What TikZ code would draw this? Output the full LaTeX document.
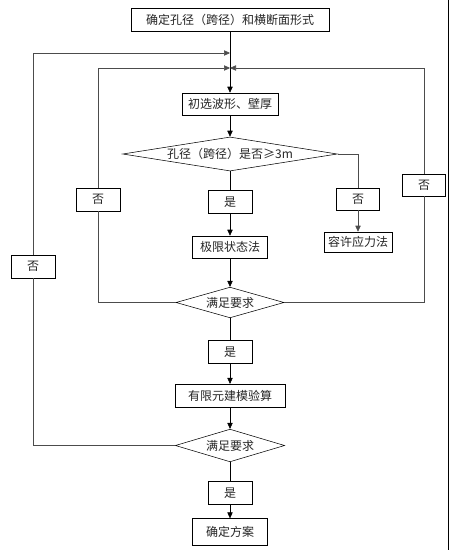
\documentclass[tikz,border=0pt]{standalone}
\usepackage{fontspec}
\newfontfamily\cjk{Noto Sans CJK SC}
\usetikzlibrary{arrows.meta,shapes.geometric}

\begin{document}
\begin{tikzpicture}[x=0.75pt, y=-0.75pt,
    box/.style={draw, fill=white, inner sep=0pt, text=black!85,
      font=\cjk\fontsize{9}{11}\selectfont},
    dia/.style={box, diamond},
    arr/.style={-{Triangle[length=4.5pt, width=4pt]}},
    loopline/.style={draw=black!70}]
  \useasboundingbox (0,0) rectangle (452,550);

  % Main column
  \node[box, minimum width=148.5pt, minimum height=17.25pt] (top) at (230,19.5) {确定孔径（跨径）和横断面形式};
  \coordinate (jo) at (230,53);
  \coordinate (ji) at (230,68);
  \node[box, minimum width=72pt, minimum height=16.5pt] (select) at (230,104) {初选波形、壁厚};
  \node[dia, aspect=6, minimum width=161pt, minimum height=25.5pt] (d1) at (230,154) {孔径（跨径）是否≥3m};
  \node[box, minimum width=33pt, minimum height=17pt] (yes1) at (230,202) {是};
  \node[box, minimum width=56pt, minimum height=16.5pt] (limit) at (230,247) {极限状态法};
  \node[dia, aspect=4, minimum width=81pt, minimum height=23pt] (d2) at (230,302.5) {满足要求};
  \node[box, minimum width=33pt, minimum height=17pt] (yes2) at (230,352) {是};
  \node[box, minimum width=82.5pt, minimum height=17pt] (fem) at (230,395.5) {有限元建模验算};
  \node[dia, aspect=4, minimum width=82pt, minimum height=24.5pt] (d3) at (230,445.5) {满足要求};
  \node[box, minimum width=33pt, minimum height=17pt] (yes3) at (230,493) {是};
  \node[box, minimum width=56pt, minimum height=20pt] (final) at (230,532) {确定方案};

  % Side branches
  \node[box, minimum width=32pt, minimum height=16.5pt] (noD1) at (358,199) {否};
  \node[box, minimum width=51pt, minimum height=15pt] (allow) at (358,242) {容许应力法};
  \node[box, minimum width=33pt, minimum height=17pt] (noL) at (98,199.5) {否};
  \node[box, minimum width=32pt, minimum height=16.5pt] (noR) at (424,185) {否};
  \node[box, minimum width=33pt, minimum height=17pt] (noOut) at (33,266.5) {否};

  % Connectors down the middle
  \draw[arr] (top) -- (select);
  \draw[arr] (select) -- (d1);
  \draw (d1) -- (yes1);
  \draw[arr] (yes1) -- (limit);
  \draw[arr] (limit) -- (d2);
  \draw (d2) -- (yes2);
  \draw[arr] (yes2) -- (fem);
  \draw[arr] (fem) -- (d3);
  \draw (d3) -- (yes3);
  \draw[arr] (yes3) -- (final);

  % Branch to allowable stress
  \draw[loopline] (d1.east) -| (noD1.north);
  \draw[loopline, arr] (noD1) -- (allow);

  % Loops back
  \draw[loopline] (d2.west) -| (noL.south);
  \draw[loopline, arr] (noL.north) |- (ji);
  \draw[loopline] (d2.east) -| (noR.south);
  \draw[loopline, arr] (noR.north) |- (ji);
  \draw[loopline] (d3.west) -| (noOut.south);
  \draw[loopline, arr] (noOut.north) |- (jo);

  % right frame edge
  \draw (448,0) -- (448,550);
\end{tikzpicture}
\end{document}
